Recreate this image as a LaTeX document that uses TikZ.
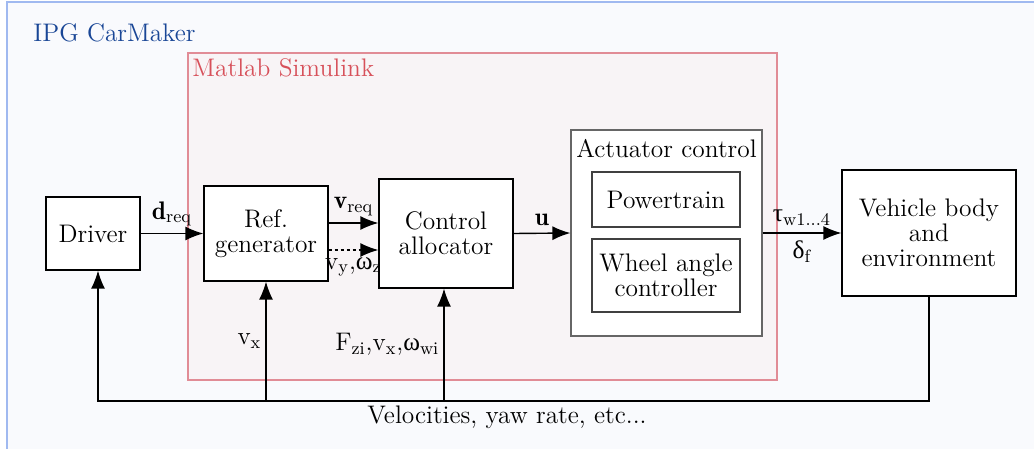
\documentclass[tikz,border=0pt]{standalone}
\usepackage{fontspec}
\newfontfamily\greekfont{Liberation Serif}
\newcommand{\gr}[1]{\mbox{\greekfont #1}}
\usetikzlibrary{arrows.meta,positioning}
\definecolor{ipgline}{RGB}{160,185,240}
\definecolor{ipgfill}{RGB}{249,250,253}
\definecolor{ipgtext}{RGB}{25,70,150}
\definecolor{simline}{RGB}{225,140,150}
\definecolor{simfill}{RGB}{248,244,246}
\definecolor{simtext}{RGB}{215,80,90}
\begin{document}
\begin{tikzpicture}[x=0.5pt,y=-0.5pt,
    font=\fontsize{12.7}{12.5}\selectfont,
    block/.style={draw, fill=white, line width=0.6pt, align=center, inner sep=0pt},
    sig/.style={-{Latex[length=9pt,width=7pt]}, line width=0.7pt},
]
    \useasboundingbox (0,0) rectangle (1034,449);

    % frames
    \draw[ipgline, fill=ipgfill, line width=0.8pt] (7,2) rectangle (1050,470);
    \node[anchor=base west, inner sep=0pt, text=ipgtext] at (33,42) {IPG CarMaker};
    \draw[simline, fill=simfill, line width=0.8pt] (188,53) rectangle (777,380);
    \node[anchor=base west, inner sep=0pt, text=simtext] at (192,77) {Matlab Simulink};

    % blocks
    \node[block, minimum width=47pt, minimum height=36.5pt] (driver) at (93,233.5) {Driver};
    \node[block, minimum width=62pt, minimum height=47.5pt] (ref) at (266,233.5) {Ref.\\generator};
    \node[block, minimum width=67pt, minimum height=54.5pt] (alloc) at (446,233.5) {Control\\allocator};
    \node[block, draw=black!60, minimum width=95.5pt, minimum height=103pt] (act) at (666.5,233) {};
    \node[below=5pt of act.north, inner sep=0pt] (actlabel) {Actuator control};
    \node[block, draw=black!75, minimum width=74pt, minimum height=27.5pt] (power) at (666,199.5) {Powertrain};
    \node[block, draw=black!75, minimum width=74pt, minimum height=36.5pt] (wheel) at (666,275.5) {Wheel angle\\controller};
    \node[block, minimum width=87pt, minimum height=63pt] (veh) at (929,233) {Vehicle body\\and\\ environment};

    % signals
    \draw[sig] (driver.east) -- node[above] {$\mathbf{d}_\mathrm{req}$} (ref.west);
    \draw[sig] ([yshift=5.25pt]ref.east) -- node[above] {$\mathbf{v}_\mathrm{req}$} ([yshift=5.25pt]ref.east -| alloc.west);
    \draw[sig, dash pattern=on 1.5pt off 1.5pt] ([yshift=-8.25pt]ref.east) -- node[below] {$\mathrm{v}_\mathrm{y}$,$\gr{ω}_\mathrm{z}$} ([yshift=-8.25pt]ref.east -| alloc.west);
    \draw[sig] (alloc.east) -- node[above] {$\mathbf{u}$} (act.west);
    \draw[sig] (act.east) -- node[above] {$\gr{τ}_\mathrm{w1...4}$} node[below] {$\gr{δ}_\mathrm{f}$} (veh.west);

    % feedback
    \coordinate (fb) at (0,401);
    \coordinate (driverin) at ([xshift=2.5pt]driver.south);
    \coordinate (allocin) at ([xshift=-1pt]alloc.south);
    \draw[sig] (veh.south) |- (driverin |- fb) -- (driverin);
    \draw[sig] (ref.south |- fb) -- node[left, inner sep=2pt] {$\mathrm{v}_\mathrm{x}$} (ref.south);
    \draw[sig] (allocin |- fb) -- node[left, inner sep=2pt] {$\mathrm{F}_\mathrm{zi}$,$\mathrm{v}_\mathrm{x}$,$\gr{ω}_\mathrm{wi}$} (allocin);
    \node[anchor=base, inner sep=0pt] (fblabel) at (507,423) {Velocities, yaw rate, etc...};
\end{tikzpicture}
\end{document}
